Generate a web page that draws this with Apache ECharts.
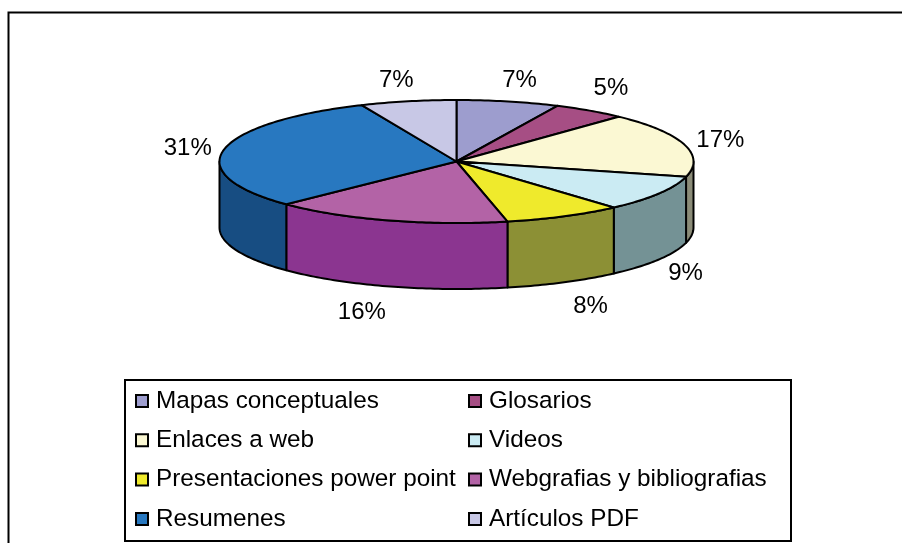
<!DOCTYPE html>
<html>
<head>
<meta charset="utf-8">
<style>html,body{margin:0;padding:0;background:#fff}#c{width:902px;height:543px}</style>
<script src="https://cdn.jsdelivr.net/npm/echarts@6/dist/echarts.min.js"></script>
</head>
<body>
<div id="c"></div>
<script>
const categories = ['Mapas conceptuales','Glosarios','Enlaces a web','Videos','Presentaciones power point','Webgrafias y bibliografias','Resumenes','Artículos PDF'];
const values = [7, 5, 17, 9.45, 8.1, 16.2, 30.7, 6.55];
const topColors = ['#9D9DCE','#A64E84','#FBF8D3','#CBEBF3','#EFEA2C','#B363A6','#2878C0','#C8C8E6'];
const wallColors = ['#5F5F80','#6A3054','#8B8C78','#749295','#8C9035','#8B3590','#174D82','#7C7C90'];
const legendCol1 = ['Mapas conceptuales','Enlaces a web','Presentaciones power point','Resumenes'];
const legendCol2 = ['Glosarios','Videos','Webgrafias y bibliografias','Artículos PDF'];
const labelNudgeX = [2,-3,-5,-10,7,-14,6,-3];
const labelNudgeY = [2,-3,3,2,3,3,3,2];

const CX = 456.5, CY = 161.5, RX = 237, RY = 61.5, DEPTH = 66;
const LABEL_RX = 280, LABEL_RY = 85;
const total = values.reduce((a,b)=>a+b,0);
const starts = [];
values.reduce((acc,v,i)=>{starts[i]=acc;return acc+v;},0);
const rad = d => d*Math.PI/180;
const pt = (deg,dy) => [CX+RX*Math.sin(rad(deg)), CY-RY*Math.cos(rad(deg))+dy];
function arc(a,b,dy){
  const out=[]; const n=Math.max(2,Math.ceil(Math.abs(b-a)));
  for(let i=0;i<=n;i++) out.push(pt(a+(b-a)*i/n,dy));
  return out;
}
function renderSlice(idx){
  return function(params,api){
    const v = api.value(0);
    const a = starts[idx]/total*360, b = a+v/total*360, m=(a+b)/2;
    const children=[];
    const wa=Math.max(a,90), wb=Math.min(b,270);
    if(wb>wa){
      children.push({type:'polygon',z2:1,shape:{points:arc(wa,wb,0).concat(arc(wb,wa,DEPTH))},
        style:{fill:wallColors[idx],stroke:'#000',lineWidth:2,lineJoin:'round'}});
    }
    children.push({type:'polygon',z2:2,shape:{points:[[CX,CY]].concat(arc(a,b,0))},
      style:{fill:topColors[idx],stroke:'#000',lineWidth:2,lineJoin:'round'}});
    const front=Math.cos(rad(m))<-0.3;
    children.push({type:'text',z2:3,style:{
      text:Math.round(v)+'%',
      x:CX+LABEL_RX*Math.sin(rad(m))+labelNudgeX[idx],
      y:CY-LABEL_RY*Math.cos(rad(m))+(front?DEPTH:0)+labelNudgeY[idx],
      align:'center',verticalAlign:'middle',
      fontSize:24,fontFamily:'"Liberation Sans",Arial,sans-serif',fill:'#000'}});
    return {type:'group',children};
  };
}
const legendBase={orient:'vertical',icon:'rect',itemWidth:12,itemHeight:12,itemGap:15.3,top:389,selectedMode:false,padding:0,
  itemStyle:{borderColor:'#000',borderWidth:2},
  textStyle:{fontSize:24.3,lineHeight:24,color:'#000',fontFamily:'"Liberation Sans",Arial,sans-serif',padding:[0,0,0,3]}};
const chart=echarts.init(document.getElementById('c'),null,{renderer:'canvas'});
chart.setOption({
  animation:false,
  backgroundColor:'#fff',
  legend:[
    Object.assign({},legendBase,{data:legendCol1,left:135}),
    Object.assign({},legendBase,{data:legendCol2,left:468})
  ],
  graphic:[
    {type:'polyline',silent:true,shape:{points:[[8.5,543],[8.5,12.5],[902,12.5]]},style:{fill:null,stroke:'#000',lineWidth:2}},
    {type:'rect',silent:true,shape:{x:125,y:380,width:666,height:161},style:{fill:null,stroke:'#000',lineWidth:2}}
  ],
  series:categories.map((name,i)=>({
    type:'custom',name,coordinateSystem:'none',silent:true,
    itemStyle:{color:topColors[i]},
    renderItem:renderSlice(i),
    data:[[values[i]]]
  }))
});
</script>
</body>
</html>
